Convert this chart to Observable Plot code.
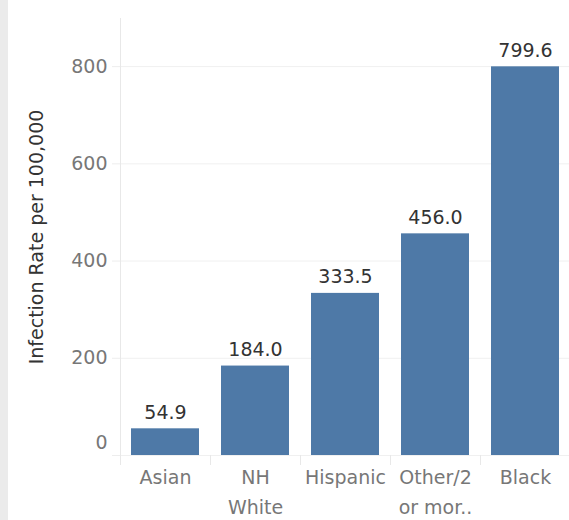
<!DOCTYPE html>
<html>
<head>
<meta charset="utf-8">
<script src="https://cdn.jsdelivr.net/npm/d3@7"></script>
<script src="https://cdn.jsdelivr.net/npm/@observablehq/plot@0.6"></script>
<style>
  html, body { margin: 0; padding: 0; background: #fff; }
  #chart { position: relative; width: 569px; height: 520px; overflow: hidden; }
  #strip { position: absolute; left: 0; top: 0; width: 8px; height: 520px; background: #ebebeb; }
  svg { font-family: "DejaVu Sans", sans-serif; }
</style>
</head>
<body>
<div id="chart"><div id="strip"></div></div>
<script>
const categories = ["Asian", "NH White", "Hispanic", "Other/2 or more", "Black"];
const tickLabels = ["Asian", "NH\nWhite", "Hispanic", "Other/2\nor mor..", "Black"];
const rates = [54.9, 184.0, 333.5, 456.0, 799.6];
const yTicks = [200, 400, 600, 800];
const yBaseTick = [0];
const yTitle = "Infection Rate per 100,000";

const data = categories.map((c, i) => ({category: c, rate: rates[i], label: rates[i].toFixed(1)}));
const labelOf = new Map(categories.map((c, i) => [c, tickLabels[i]]));

const W = 569, H = 520, mL = 120, mT = 18, mB = 65;
const xRange = [mL, 570];
const step = (xRange[1] - xRange[0]) / categories.length;

const plot = Plot.plot({
  width: W,
  height: H,
  marginLeft: mL,
  marginRight: 0,
  marginTop: mT,
  marginBottom: mB,
  style: {background: "transparent", fontFamily: "DejaVu Sans, sans-serif"},
  x: {domain: categories, range: xRange, paddingInner: 0.2444, paddingOuter: 0.1222},
  y: {domain: [0, 899]},
  marks: [
    Plot.gridY(yTicks.concat(yBaseTick), {stroke: "#f0f0f0", strokeOpacity: 1, strokeWidth: 1}),
    Plot.axisY(yTicks, {tickSize: 8, tickPadding: 5, stroke: "#ededed", fill: "#777", fontSize: 19, label: null, tickFormat: d => String(d)}),
    Plot.axisY(yBaseTick, {tickSize: 8, stroke: "#ededed", label: null, tickFormat: () => ""}),
    Plot.text(yBaseTick, {y: d => d, text: d => String(d), frameAnchor: "left", textAnchor: "end", dx: -13, dy: -13, fontSize: 19, fill: "#777"}),
    Plot.axisX(categories, {tickSize: 10, tickFormat: () => "", dx: -step / 2, stroke: "#e8e8e8", label: null}),
    Plot.axisX(categories, {tickSize: 0, tickPadding: 8, fontSize: 19, fill: "#777", lineHeight: 1.55, tickFormat: d => labelOf.get(d), label: null}),
    Plot.frame({anchor: "left", stroke: "#e8e8e8", insetBottom: -8}),
    Plot.barY(data, {x: "category", y: "rate", fill: "#4e79a7"}),
    Plot.text(data, {x: "category", y: "rate", text: "label", lineAnchor: "bottom", dy: -10, fontSize: 19, fill: "#333"}),
    Plot.text([yTitle], {frameAnchor: "left", textAnchor: "middle", rotate: -90, dx: -84, fontSize: 19, fill: "#333"})
  ]
});
plot.style.position = "absolute";
plot.style.left = "0";
plot.style.top = "0";
document.getElementById("chart").appendChild(plot);
</script>
</body>
</html>
